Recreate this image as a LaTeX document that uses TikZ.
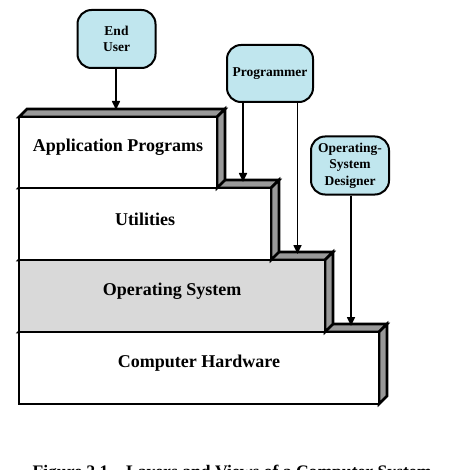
\documentclass[tikz,border=0pt]{standalone}
\usepackage{fontspec}
\setmainfont{Liberation Serif}
\usetikzlibrary{arrows.meta}
\definecolor{userblue}{RGB}{192,230,238}
\definecolor{facegray}{RGB}{153,153,153}
\definecolor{osgray}{RGB}{217,217,217}
\begin{document}
\begin{tikzpicture}[x=1pt,y=-1pt,
  face/.style={draw, line width=2.6pt, line join=miter, fill=facegray},
  front/.style={draw, line width=2.6pt, inner sep=0pt, outer sep=0pt},
  layertext/.style={font=\fontsize{18}{20}\selectfont\bfseries},
  viewer/.style={draw, line width=2pt, fill=userblue, rounded corners=14pt,
    inner sep=0pt, align=center, font=\fontsize{13.5}{16.5}\selectfont\bfseries},
  arr/.style={line width=1.6pt, -{Triangle[length=9pt,width=8pt]}}]
\useasboundingbox (0,0) rectangle (451,470);
\clip (0,0) rectangle (451,470);
\foreach \n/\yt/\yb/\xr/\col/\txt in {
  hw/332/404/379/white/Computer Hardware,
  os/260/332/325/osgray/Operating System,
  util/188/260/271/white/Utilities,
  app/117/188/217/white/Application Programs}{
  \draw[face] (19,\yt) -- (27,\yt-8) -- (\xr+8,\yt-8) -- (\xr,\yt) -- cycle;
  \draw[face] (\xr,\yt) -- (\xr+8,\yt-8) -- (\xr+8,\yb-8) -- (\xr,\yb) -- cycle;
  \node[front, fill=\col, minimum width={(\xr-19)*1pt}, minimum height={(\yb-\yt)*1pt},
    label={[layertext, yshift=5pt]center:\txt}] (\n) at ({(19+\xr)/2},{(\yt+\yb)/2}) {};
}
\node[viewer, minimum width=78pt, minimum height=58pt] (user) at (116.5,39) {End\\User};
\node[viewer, minimum width=86pt, minimum height=57pt] (prog) at (270,73.5) {Programmer};
\node[viewer, minimum width=78pt, minimum height=58pt] (osd) at (350,165.5) {Operating-\\System\\Designer};
\coordinate (uu) at (116,110);
\coordinate (pu) at (243,182);
\coordinate (po) at (297.5,254);
\coordinate (du) at (351,326);
\draw[arr] (user.south -| uu) -- (uu);
\draw[arr] (prog.south -| pu) -- (pu);
\draw[arr] (prog.south -| po) -- (po);
\draw[arr] (osd.south -| du) -- (du);
\node[anchor=base, font=\fontsize{17.6}{19}\selectfont\bfseries] (cap) at (232,477)
  {Figure 2.1\quad Layers and Views of a Computer System};
\end{tikzpicture}
\end{document}
